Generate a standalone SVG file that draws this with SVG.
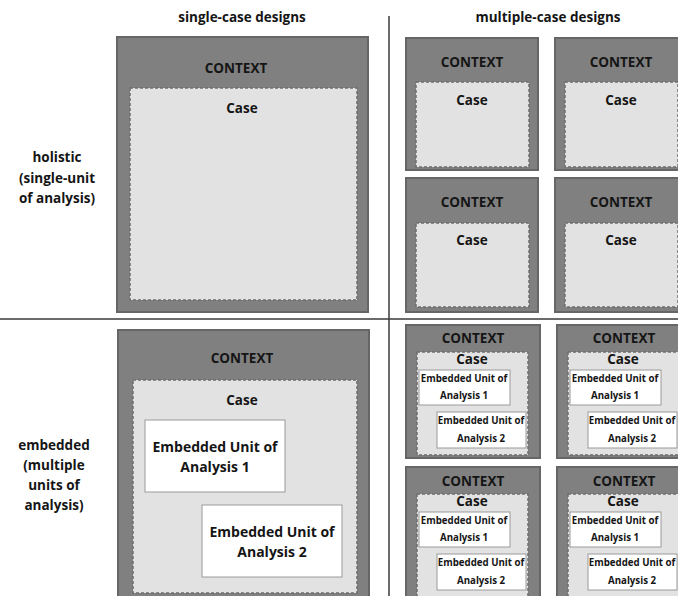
<svg xmlns="http://www.w3.org/2000/svg" width="678" height="596" viewBox="0 0 678 596">
  <style>
    text { font-family: "Open Sans", "Liberation Sans", sans-serif; font-weight: bold; fill: #151515; text-anchor: middle; }
    .hdr { font-size: 13.5px; }
    .lbl { font-size: 13.5px; }
    .ctx { fill: #808080; stroke: #666; stroke-width: 2; }
    .case { fill: #e2e2e2; stroke: #6e6e6e; stroke-width: 1.5; stroke-dasharray: 3 2; }
    .emb { fill: #ffffff; stroke: #9a9a9a; stroke-width: 1; }
    .t11 { font-size: 13.5px; }
    .t12 { font-size: 14px; }
    .t9 { font-size: 9.7px; }
    .rule { stroke: #3a3a3a; stroke-width: 1.5; fill: none; }
  </style>

  <rect width="678" height="596" fill="#ffffff"/>

  <!-- quadrant dividers -->
  <g id="dividers">
    <line class="rule" x1="389" y1="16" x2="389" y2="596"/>
    <line class="rule" x1="0" y1="319" x2="678" y2="319"/>
  </g>

  <!-- column and row headings -->
  <g id="headings">
    <text class="hdr" x="242" y="22">single-case designs</text>
    <text class="hdr" x="548" y="22">multiple-case designs</text>
    <text class="lbl" x="57" y="162">holistic</text>
    <text class="lbl" x="57" y="183">(single-unit</text>
    <text class="lbl" x="57" y="203">of analysis)</text>
    <text class="lbl" x="54" y="450">embedded</text>
    <text class="lbl" x="54" y="470">(multiple</text>
    <text class="lbl" x="54" y="490">units of</text>
    <text class="lbl" x="54" y="510">analysis)</text>
  </g>

  <!-- holistic, single case -->
  <g id="single-holistic">
    <rect class="ctx" x="117" y="37" width="251" height="275"/>
    <text class="t11" x="236" y="73">CONTEXT</text>
    <rect class="case" x="130" y="88" width="227" height="212"/>
    <text class="t11" x="242" y="113">Case</text>
  </g>

  <!-- holistic, multiple cases -->
  <g id="multi-holistic-1">
    <rect class="ctx" x="406" y="38" width="132" height="132"/>
    <text class="t11" x="472" y="67">CONTEXT</text>
    <rect class="case" x="416" y="82" width="113" height="85"/>
    <text class="t11" x="472" y="105">Case</text>
  </g>
  <g id="multi-holistic-2">
    <rect class="ctx" x="555" y="38" width="132" height="132"/>
    <text class="t11" x="621" y="67">CONTEXT</text>
    <rect class="case" x="565" y="82" width="113" height="85"/>
    <text class="t11" x="621" y="105">Case</text>
  </g>
  <g id="multi-holistic-3">
    <rect class="ctx" x="406" y="178" width="132" height="134"/>
    <text class="t11" x="472" y="207">CONTEXT</text>
    <rect class="case" x="416" y="223" width="113" height="84"/>
    <text class="t11" x="472" y="245">Case</text>
  </g>
  <g id="multi-holistic-4">
    <rect class="ctx" x="555" y="178" width="132" height="134"/>
    <text class="t11" x="621" y="207">CONTEXT</text>
    <rect class="case" x="565" y="223" width="113" height="84"/>
    <text class="t11" x="621" y="245">Case</text>
  </g>

  <!-- embedded, single case -->
  <g id="single-embedded">
    <rect class="ctx" x="118" y="330" width="251" height="280"/>
    <text class="t11" x="242" y="363">CONTEXT</text>
    <rect class="case" x="133" y="380" width="224" height="213"/>
    <text class="t11" x="242" y="405">Case</text>
    <rect class="emb" x="145" y="420" width="140" height="72"/>
    <text class="t12" x="215" y="452">Embedded Unit of</text>
    <text class="t12" x="215" y="472">Analysis 1</text>
    <rect class="emb" x="202" y="505" width="140" height="72"/>
    <text class="t12" x="272" y="537">Embedded Unit of</text>
    <text class="t12" x="272" y="557">Analysis 2</text>
  </g>

  <!-- embedded, multiple cases -->
  <g id="multi-embedded-1">
    <rect class="ctx" x="406" y="325" width="134" height="133"/>
    <text class="t11" x="473" y="343">CONTEXT</text>
    <rect class="case" x="417" y="352" width="111" height="103"/>
    <text class="t11" x="472" y="364">Case</text>
    <rect class="emb" x="419" y="370" width="91" height="35"/>
    <text class="t9" x="464" y="382">Embedded Unit of</text>
    <text class="t9" x="464" y="399">Analysis 1</text>
    <rect class="emb" x="437" y="412" width="89" height="36"/>
    <text class="t9" x="481" y="424">Embedded Unit of</text>
    <text class="t9" x="481" y="442">Analysis 2</text>
  </g>
  <g id="multi-embedded-2">
    <rect class="ctx" x="557" y="325" width="134" height="133"/>
    <text class="t11" x="624" y="343">CONTEXT</text>
    <rect class="case" x="568" y="352" width="111" height="103"/>
    <text class="t11" x="623" y="364">Case</text>
    <rect class="emb" x="570" y="370" width="91" height="35"/>
    <text class="t9" x="615" y="382">Embedded Unit of</text>
    <text class="t9" x="615" y="399">Analysis 1</text>
    <rect class="emb" x="588" y="412" width="89" height="36"/>
    <text class="t9" x="632" y="424">Embedded Unit of</text>
    <text class="t9" x="632" y="442">Analysis 2</text>
  </g>
  <g id="multi-embedded-3">
    <rect class="ctx" x="406" y="467" width="134" height="140"/>
    <text class="t11" x="473" y="486">CONTEXT</text>
    <rect class="case" x="417" y="494" width="111" height="103"/>
    <text class="t11" x="472" y="506">Case</text>
    <rect class="emb" x="419" y="512" width="91" height="35"/>
    <text class="t9" x="464" y="524">Embedded Unit of</text>
    <text class="t9" x="464" y="541">Analysis 1</text>
    <rect class="emb" x="437" y="554" width="89" height="36"/>
    <text class="t9" x="481" y="566">Embedded Unit of</text>
    <text class="t9" x="481" y="584">Analysis 2</text>
  </g>
  <g id="multi-embedded-4">
    <rect class="ctx" x="557" y="467" width="134" height="140"/>
    <text class="t11" x="624" y="486">CONTEXT</text>
    <rect class="case" x="568" y="494" width="111" height="103"/>
    <text class="t11" x="623" y="506">Case</text>
    <rect class="emb" x="570" y="512" width="91" height="35"/>
    <text class="t9" x="615" y="524">Embedded Unit of</text>
    <text class="t9" x="615" y="541">Analysis 1</text>
    <rect class="emb" x="588" y="554" width="89" height="36"/>
    <text class="t9" x="632" y="566">Embedded Unit of</text>
    <text class="t9" x="632" y="584">Analysis 2</text>
  </g>
</svg>
